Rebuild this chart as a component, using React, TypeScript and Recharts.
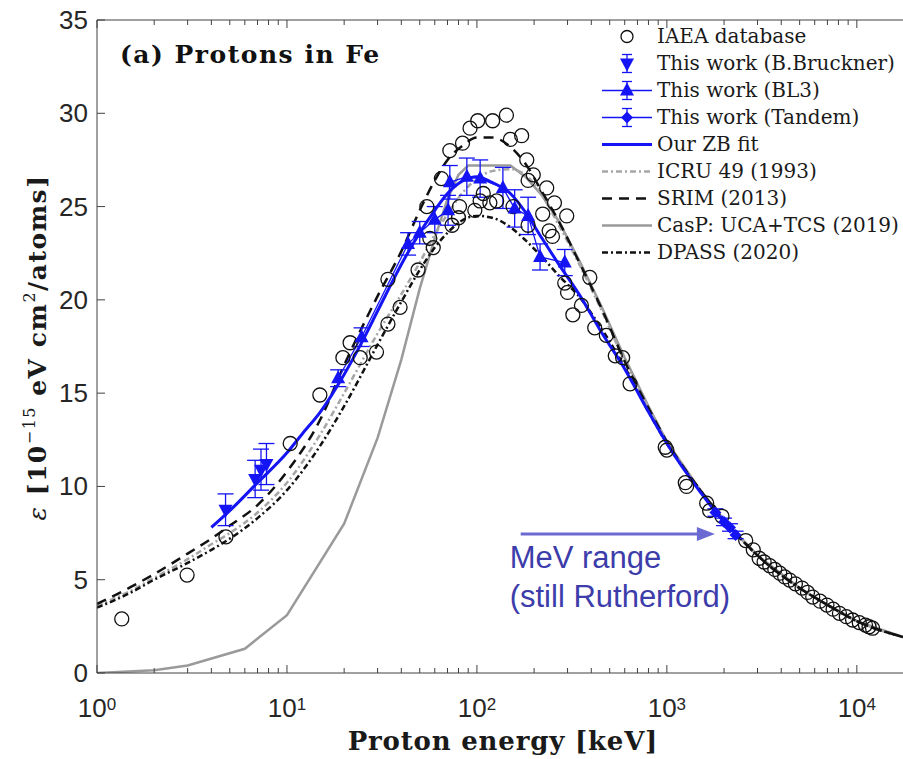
import React from 'react'
import {
  ComposedChart,
  Line,
  Scatter,
  XAxis,
  YAxis,
  ErrorBar,
  Legend,
  ReferenceLine,
  Label,
} from 'recharts'

// model curves on a shared energy grid [keV] -> stopping cross section [1e-15 eV cm2/atom]
const curveE = [1, 1.5, 2, 3, 4, 5, 7, 10, 15, 20, 30, 40, 50, 60, 70, 85, 100, 120, 150, 180, 220, 270, 350, 450, 600, 800, 1000, 1500, 2000, 3000, 5000, 7000, 10000, 17500]
const srimV = [3.7, 4.6, 5.3, 6.4, 7.2, 7.9, 9.0, 10.8, 13.6, 16.5, 20.2, 22.6, 24.8, 26.4, 27.5, 28.3, 28.7, 28.7, 28.2, 27.3, 25.8, 24.2, 21.9, 19.6, 16.7, 14.2, 12.4, 9.8, 8.2, 6.3, 4.55, 3.65, 2.78, 1.93]
const icruV = [3.6, 4.4, 5.1, 6.1, 6.9, 7.5, 8.6, 10.2, 12.8, 15.0, 18.2, 20.3, 22.0, 23.5, 24.6, 25.8, 26.5, 26.9, 27.0, 26.7, 25.6, 24.0, 21.8, 19.5, 16.7, 14.2, 12.4, 9.8, 8.2, 6.3, 4.55, 3.65, 2.78, 1.93]
const dpassV = [3.5, 4.3, 5.0, 5.9, 6.6, 7.2, 8.3, 9.8, 12.2, 14.3, 17.6, 19.9, 21.6, 22.8, 23.6, 24.3, 24.5, 24.4, 23.9, 23.2, 22.3, 21.3, 20.1, 18.5, 16.4, 14.0, 12.3, 9.8, 8.2, 6.3, 4.55, 3.65, 2.78, 1.93]

const casE = [1, 2, 3, 6, 10, 20, 30, 40, 50, 60, 70, 80, 90, 150, 180, 220, 270, 350, 450, 600, 800, 1000, 1500, 2000, 3000, 5000, 7000, 10000, 17500]
const casV = [0, 0.15, 0.4, 1.3, 3.1, 8.0, 12.6, 16.8, 20.6, 23.3, 25.4, 26.7, 27.2, 27.2, 26.6, 25.6, 24.2, 22.0, 19.7, 16.9, 14.3, 12.4, 9.8, 8.2, 6.3, 4.55, 3.65, 2.78, 1.93]

const zbE = [4, 5, 7, 10, 12, 15, 20, 25, 30, 40, 50, 60, 70, 85, 100, 120, 150, 180, 220, 270, 350, 450, 600, 800, 1000, 1500, 2000, 2300]
const zbV = [7.8, 8.7, 10.2, 11.8, 12.8, 14.0, 16.0, 17.8, 19.4, 21.9, 23.6, 24.8, 25.7, 26.4, 26.6, 26.3, 25.7, 24.7, 23.3, 21.9, 20.2, 18.3, 16.3, 14.0, 12.3, 9.7, 8.1, 7.5]

// IAEA database points
const iaeaE = [1.35, 2.98, 4.77, 10.4, 14.9, 19.7, 21.5, 24.3, 29.6, 34, 34, 39.4, 49, 54.5, 56.5, 58.9, 65, 72, 74, 80, 81, 84, 92, 97.5, 101, 104, 108, 117, 121, 127, 143, 150, 155, 172, 183, 186, 186, 198, 222, 233, 240, 250, 256, 290, 297, 300, 320, 355, 393, 417, 480, 535, 585, 640, 980, 1000, 1250, 1270, 1620, 1680, 1950, 2600, 2850, 3060, 3250, 3480, 3700, 3930, 4170, 4430, 4750, 5150, 5500, 5860, 6400, 6960, 7500, 8100, 8800, 9500, 10300, 11100, 11600, 12100]
const iaeaV = [2.9, 5.25, 7.3, 12.3, 14.9, 16.9, 17.7, 16.9, 17.2, 18.7, 21.1, 19.6, 21.6, 25.0, 23.3, 22.8, 26.5, 28.0, 24.0, 24.4, 25.0, 28.4, 29.2, 24.8, 29.6, 25.3, 25.7, 25.2, 29.6, 25.3, 29.9, 28.6, 25.0, 28.8, 27.5, 26.4, 24.0, 26.7, 24.6, 26.0, 23.7, 23.4, 25.2, 20.9, 24.5, 20.4, 19.2, 19.7, 21.2, 18.5, 18.1, 17.0, 16.9, 15.5, 12.1, 11.95, 10.2, 10.0, 9.1, 8.7, 8.4, 7.1, 6.6, 6.15, 5.95, 5.75, 5.55, 5.35, 5.15, 4.98, 4.78, 4.55, 4.32, 4.07, 3.85, 3.64, 3.42, 3.2, 3.02, 2.84, 2.7, 2.57, 2.48, 2.4]

// this work
const brE = [4.75, 6.8, 7.3, 7.8]
const brV = [8.75, 10.4, 10.9, 11.2]
const brErr = [0.85, 1.0, 1.1, 1.1]

const bl3E = [18.6, 24.7, 43.4, 50, 60, 70.5, 72, 88.5, 104, 137, 158, 186, 215, 290]
const bl3V = [15.8, 18.0, 23.0, 23.6, 24.3, 24.8, 26.3, 26.6, 26.5, 26.0, 24.9, 24.5, 22.3, 22.0]
const bl3Err = [0.45, 0.5, 0.6, 0.6, 0.7, 0.8, 0.9, 1.0, 1.0, 1.1, 1.0, 1.0, 0.7, 0.7]

const tanE = [1800, 2000, 2150, 2300]
const tanV = [8.6, 8.1, 7.8, 7.4]
const tanErr = [0.2, 0.2, 0.2, 0.2]

const xMajor = [1, 10, 100, 1000, 10000]
const xTicks = [1, 10, 100, 1000].flatMap((d) => [1, 2, 3, 4, 5, 6, 7, 8, 9].map((m) => m * d)).concat([10000])
const yTicks = [0, 5, 10, 15, 20, 25, 30, 35]

const legendLabels = [
  'IAEA database',
  'This work (B.Bruckner)',
  'This work (BL3)',
  'This work (Tandem)',
  'Our ZB fit',
  'ICRU 49 (1993)',
  'SRIM (2013)',
  'CasP: UCA+TCS (2019)',
  'DPASS (2020)',
]

const BLUE = '#1414f5'
const AXIS = '#404040'
const TICKTXT = '#262626'
const SERIF = '"DejaVu Serif", serif'
const SANS = '"Liberation Sans", Arial, sans-serif'

const zip = (e: number[], v: number[], err?: number[]) =>
  e.map((x, i) => (err ? { e: x, v: v[i], err: err[i] } : { e: x, v: v[i] }))

const srim = zip(curveE, srimV)
const icru = zip(curveE, icruV)
const dpass = zip(curveE, dpassV)
const casp = zip(casE, casV)
const zb = zip(zbE, zbV)
const iaea = zip(iaeaE, iaeaV)
const bruckner = zip(brE, brV, brErr)
const bl3 = zip(bl3E, bl3V, bl3Err)
const tandem = zip(tanE, tanV, tanErr)

const triUp = (cx: number, cy: number) => `${cx},${cy - 8} ${cx - 7},${cy + 5} ${cx + 7},${cy + 5}`
const triDown = (cx: number, cy: number) => `${cx - 7},${cy - 5} ${cx + 7},${cy - 5} ${cx},${cy + 8}`
const diamond = (cx: number, cy: number) => `${cx},${cy - 6} ${cx + 6},${cy} ${cx},${cy + 6} ${cx - 6},${cy}`

const BottomTick = (props: any) => {
  const { x, y, payload } = props
  const major = xMajor.includes(payload.value)
  const exp = Math.round(Math.log10(payload.value))
  return (
    <g>
      <line x1={x} x2={x} y1={y} y2={y - (major ? 8 : 5)} stroke={AXIS} strokeWidth={1} />
      {major && (
        <text x={x} y={y + 44} textAnchor="middle" fontFamily={SANS} fontSize={26} fill={TICKTXT}>
          10
          <tspan dy={-7} fontSize={17}>
            {exp}
          </tspan>
        </text>
      )}
    </g>
  )
}

const TopTick = (props: any) => {
  const { x, y, payload } = props
  const major = xMajor.includes(payload.value)
  return <line x1={x} x2={x} y1={y} y2={y + (major ? 8 : 5)} stroke={AXIS} strokeWidth={1} />
}

const LeftTick = (props: any) => {
  const { x, y, payload } = props
  return (
    <g>
      <line x1={x} x2={x + 8} y1={y} y2={y} stroke={AXIS} strokeWidth={1} />
      <text x={x - 9} y={y + 9} textAnchor="end" fontFamily={SANS} fontSize={26} fill={TICKTXT}>
        {payload.value}
      </text>
    </g>
  )
}

const YTitle = (props: any) => {
  const vb = props.viewBox
  const x = vb.x + 46
  const y = vb.y + vb.height / 2 + 1
  return (
    <text
      x={x}
      y={y}
      transform={`rotate(-90, ${x}, ${y})`}
      textAnchor="middle"
      fontFamily={SERIF}
      fontWeight="bold"
      fontSize={25}
      letterSpacing={1.5}
      fill="#1a1a1a"
    >
      <tspan fontWeight="normal" fontStyle="italic">ε</tspan> [10
      <tspan dy={-11} fontSize={16} fontWeight="normal">−15</tspan>
      <tspan dy={11}> eV cm</tspan>
      <tspan dy={-11} fontSize={16} fontWeight="normal">2</tspan>
      <tspan dy={11}>/atoms]</tspan>
    </text>
  )
}

const XTitle = (props: any) => {
  const vb = props.viewBox
  return (
    <text
      x={503}
      y={vb.y + 77}
      textAnchor="middle"
      fontFamily={SERIF}
      fontWeight="bold"
      fontSize={26}
      letterSpacing={0.8}
      fill="#1a1a1a"
    >
      Proton energy [keV]
    </text>
  )
}

const PanelTitle = (props: any) => {
  const vb = props.viewBox
  return (
    <text x={vb.x + 23} y={vb.y + 44} fontFamily={SERIF} fontWeight="bold" fontSize={25} letterSpacing={1.5} fill="#111">
      (a) Protons in Fe
    </text>
  )
}

const ArrowNote = (props: any) => {
  const { x1, y1, x2, y2 } = props
  const c = '#6a6ad2'
  return (
    <g>
      <line x1={x1} y1={y1} x2={x2 - 14} y2={y2} stroke={c} strokeWidth={3} />
      <polygon points={`${x2},${y2} ${x2 - 18},${y2 - 7} ${x2 - 18},${y2 + 7}`} fill={c} />
      <text x={x1 - 11} y={y1 + 34} fontFamily={SANS} fontSize={31} fill="#3c3cab">
        MeV range
      </text>
      <text x={x1 - 11} y={y1 + 73} fontFamily={SANS} fontSize={31} fill="#3c3cab">
        (still Rutherford)
      </text>
    </g>
  )
}

const LegendBox = () => {
  const icon = (i: number, y: number) => {
    const cx = 34
    switch (i) {
      case 0:
        return <circle cx={cx} cy={y} r={6} fill="none" stroke="#111" strokeWidth={1.3} />
      case 1:
        return (
          <g stroke={BLUE} strokeWidth={1.3}>
            <line x1={cx} x2={cx} y1={y - 9} y2={y + 9} />
            <line x1={cx - 5} x2={cx + 5} y1={y - 9} y2={y - 9} />
            <line x1={cx - 5} x2={cx + 5} y1={y + 9} y2={y + 9} />
            <polygon points={triDown(cx, y)} fill={BLUE} stroke="none" />
          </g>
        )
      case 2:
      case 3:
        return (
          <g stroke={BLUE} strokeWidth={1.3}>
            <line x1={9} x2={59} y1={y} y2={y} />
            <line x1={cx} x2={cx} y1={y - 9} y2={y + 9} />
            <line x1={cx - 5} x2={cx + 5} y1={y - 9} y2={y - 9} />
            <line x1={cx - 5} x2={cx + 5} y1={y + 9} y2={y + 9} />
            <polygon points={i === 2 ? triUp(cx, y) : diamond(cx, y)} fill={BLUE} stroke="none" />
          </g>
        )
      case 4:
        return <line x1={9} x2={59} y1={y} y2={y} stroke={BLUE} strokeWidth={3} />
      case 5:
        return <line x1={9} x2={59} y1={y} y2={y} stroke="#a6a6a6" strokeWidth={2.5} strokeDasharray="6 3 2 3" />
      case 6:
        return <line x1={9} x2={59} y1={y} y2={y} stroke="#111" strokeWidth={2.5} strokeDasharray="10 7" />
      case 7:
        return <line x1={9} x2={59} y1={y} y2={y} stroke="#9a9a9a" strokeWidth={2.5} />
      default:
        return <line x1={9} x2={59} y1={y} y2={y} stroke="#111" strokeWidth={2.5} strokeDasharray="6 3 2 3" />
    }
  }
  return (
    <svg width={310} height={260}>
      {legendLabels.map((lab, i) => {
        const y = 18.5 + 27 * i
        return (
          <g key={lab}>
            {icon(i, y)}
            <text x={64} y={y + 6} fontFamily={SERIF} fontSize={20} fill="#1a1a1a">
              {lab}
            </text>
          </g>
        )
      })}
    </svg>
  )
}

const circleShape = (p: any) => <circle cx={p.cx} cy={p.cy} r={7} fill="none" stroke="#111" strokeWidth={1.3} />
const downShape = (p: any) => <polygon points={triDown(p.cx, p.cy)} fill={BLUE} />
const upDot = (p: any) => <polygon key={`u${p.index}`} points={triUp(p.cx, p.cy)} fill={BLUE} />
const diaDot = (p: any) => <polygon key={`d${p.index}`} points={diamond(p.cx, p.cy)} fill={BLUE} />

export default function App() {
  return (
    <div style={{ position: 'absolute', left: 0, top: 0, width: 903, height: 759, background: '#fff' }}>
      <ComposedChart width={903} height={759} margin={{ top: 19, right: 0, bottom: 0, left: 0 }}>
        <XAxis
          type="number"
          dataKey="e"
          scale="log"
          domain={[1, 17500]}
          ticks={xTicks}
          interval={0}
          height={86}
          tickSize={0}
          tickMargin={0}
          tickLine={false}
          axisLine={{ stroke: AXIS }}
          tick={<BottomTick />}
          allowDataOverflow
        >
          <Label content={<XTitle />} />
        </XAxis>
        <XAxis
          xAxisId="top"
          orientation="top"
          type="number"
          dataKey="e"
          scale="log"
          domain={[1, 17500]}
          ticks={xTicks}
          interval={0}
          height={1}
          tickSize={0}
          tickMargin={0}
          tickLine={false}
          axisLine={{ stroke: AXIS }}
          tick={<TopTick />}
          allowDataOverflow
        >
          <Label content={<PanelTitle />} />
        </XAxis>
        <YAxis
          type="number"
          dataKey="v"
          domain={[0, 35]}
          ticks={yTicks}
          interval={0}
          width={97}
          tickSize={0}
          tickMargin={0}
          tickLine={false}
          axisLine={{ stroke: AXIS }}
          tick={<LeftTick />}
          allowDataOverflow
        >
          <Label content={<YTitle />} />
        </YAxis>

        <Line data={casp} dataKey="v" type="linear" stroke="#9a9a9a" strokeWidth={2.5} dot={false} isAnimationActive={false} />
        <Line data={icru} dataKey="v" type="monotone" stroke="#a6a6a6" strokeWidth={2.5} strokeDasharray="6 3 2 3" dot={false} isAnimationActive={false} />
        <Line data={dpass} dataKey="v" type="monotone" stroke="#111" strokeWidth={2.5} strokeDasharray="6 3 2 3" dot={false} isAnimationActive={false} />
        <Line data={srim} dataKey="v" type="monotone" stroke="#111" strokeWidth={2.5} strokeDasharray="10 7" dot={false} isAnimationActive={false} />
        <Scatter data={iaea} dataKey="v" shape={circleShape} isAnimationActive={false} />
        <Line data={zb} dataKey="v" type="monotone" stroke={BLUE} strokeWidth={3} dot={false} isAnimationActive={false} />
        <Line data={bl3} dataKey="v" type="linear" stroke={BLUE} strokeWidth={1.3} dot={upDot} isAnimationActive={false}>
          <ErrorBar dataKey="err" direction="y" width={8} stroke={BLUE} strokeWidth={1.3} />
        </Line>
        <Scatter data={bruckner} dataKey="v" shape={downShape} isAnimationActive={false}>
          <ErrorBar dataKey="err" direction="y" width={8} stroke={BLUE} strokeWidth={1.3} />
        </Scatter>
        <Line data={tandem} dataKey="v" type="linear" stroke={BLUE} strokeWidth={1.3} dot={diaDot} isAnimationActive={false}>
          <ErrorBar dataKey="err" direction="y" width={8} stroke={BLUE} strokeWidth={1.3} />
        </Line>

        <ReferenceLine
          segment={[
            { x: 170, y: 7.45 },
            { x: 1790, y: 7.45 },
          ]}
          shape={<ArrowNote />}
        />

        <Legend
          layout="horizontal"
          verticalAlign="middle"
          align="center"
          wrapperStyle={{ left: 593, top: 18, width: 310, height: 260 }}
          content={<LegendBox />}
        />
      </ComposedChart>
    </div>
  )
}
